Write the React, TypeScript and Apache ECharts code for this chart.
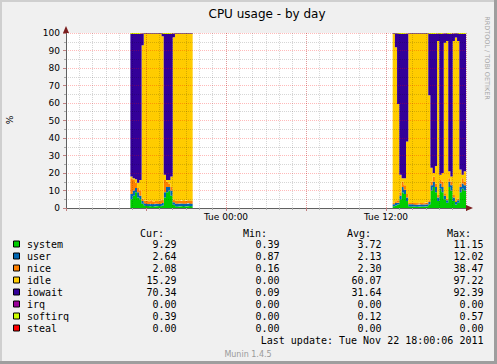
import React, { useEffect, useRef } from "react";
import * as echarts from "echarts";

// hours relative to Tue 00:00; the null column separates the two periods with data
const times = [
  -7.17, -7.0, -6.83, -6.67, -6.5, -6.33, -6.17, -6.0, -5.83, -5.67, -5.5, -5.33, -5.17, -5.0, -4.83,
  -4.67, -4.5, -4.33, -4.17, -4.0, -3.83, -3.67, -3.5, -3.33, -3.17, -3.0, -2.83, -2.67, -2.5,
  null,
  12.5, 12.67, 12.83, 13.0, 13.17, 13.33, 13.5, 13.67, 13.83, 14.0, 14.17, 14.33, 14.5, 14.67, 14.83,
  15.0, 15.17, 15.33, 15.5, 15.67, 15.83, 16.0, 16.17, 16.33, 16.5, 16.67, 16.83, 17.0, 17.17, 17.33,
  17.5, 17.67, 17.83, 18.0,
];

const system = [
  5, 7, 9, 6, 5, 2.5, 1.5, 1.2, 1.0, 1.1, 0.9, 1.0, 1.2, 1.0, 1.5, 6, 9, 10, 7, 1.8, 1.0, 0.9, 1.0, 1.1, 0.9, 1.0, 1.2, 1.0, 1.0,
  null,
  1.0, 1.5, 2, 5, 9, 8, 4, 1.0, 0.8, 0.9, 0.8, 0.7, 0.9, 0.8, 0.9, 1.0, 2.0, 10, 12, 9, 4, 11, 9, 5, 3, 12, 10, 4, 2, 3, 9, 11, 10, 9.29,
];
const user = [
  3, 3, 2.5, 3, 2, 1.5, 1.2, 1.3, 1.2, 1.3, 1.2, 1.4, 1.2, 1.3, 1.4, 3, 3, 2, 3, 1.5, 1.6, 1.5, 1.6, 1.5, 1.6, 1.5, 1.6, 1.5, 1.5,
  null,
  1.2, 1.3, 1, 2, 3, 2.5, 2, 1.2, 1.3, 1.2, 1.1, 1.2, 1.3, 1.2, 1.1, 1.2, 1.5, 3, 3, 3, 2, 3, 3, 2, 1.5, 3, 3, 2, 1.5, 1.5, 3, 3, 3, 2.64,
];
const nice = [
  9, 6, 3, 2.5, 3, 1.5, 1.5, 1.8, 1.6, 2.0, 1.5, 1.7, 1.4, 2.2, 1.8, 7, 3, 2, 2, 1.6, 1.5, 1.7, 1.4, 1.8, 1.5, 1.9, 1.5, 1.7, 1.7,
  null,
  0.8, 1.0, 1.5, 2, 3, 2.5, 2, 0.9, 0.8, 0.7, 0.9, 0.8, 0.8, 0.7, 0.8, 0.9, 1.0, 2, 3, 2, 1.5, 2, 3, 1.5, 1, 2, 2, 1.5, 1, 1, 2, 3, 2, 2.08,
];
const idle = [
  1, 1, 2, 3, 6, 87.5, 95.2, 95.1, 95.6, 95.0, 95.8, 95.3, 95.6, 94.9, 93.5, 3, 1, 2, 6, 92.7, 95.3, 95.3, 95.4, 95.0, 95.4, 95.0, 95.1, 95.2, 95.2,
  null,
  96.4, 88.0, 55, 10, 2, 4, 30, 96.3, 96.5, 96.6, 96.6, 96.7, 96.4, 96.7, 96.6, 96.3, 60.0, 8, 2, 10, 88, 3, 5, 86, 90, 4, 3, 88, 93, 90, 8, 2, 6, 15.29,
];
const iowait = [
  81.5, 82.5, 83, 85, 83.5, 6.8, 0.4, 0.4, 0.4, 0.4, 0.4, 0.4, 0.4, 0.4, 1.6, 80.5, 83.5, 83.5, 81.5, 2.2, 0.4, 0.4, 0.4, 0.4, 0.4, 0.4, 0.4, 0.4, 0.4,
  null,
  0.4, 8.0, 40.3, 80.5, 82.5, 82.5, 61.7, 0.4, 0.4, 0.4, 0.4, 0.4, 0.4, 0.4, 0.4, 0.4, 35.2, 76.5, 79.5, 75.5, 4.3, 80.5, 79.5, 5.3, 4.3, 78.5, 81.5, 4.3, 2.3, 4.3, 77.5, 80.5, 78.5, 70.34,
];
const irq = [
  0, 0, 0, 0, 0, 0, 0, 0, 0, 0, 0, 0, 0, 0, 0, 0, 0, 0, 0, 0, 0, 0, 0, 0, 0, 0, 0, 0, 0,
  null,
  0, 0, 0, 0, 0, 0, 0, 0, 0, 0, 0, 0, 0, 0, 0, 0, 0, 0, 0, 0, 0, 0, 0, 0, 0, 0, 0, 0, 0, 0, 0, 0, 0, 0,
];
const softirq = [
  0.5, 0.5, 0.5, 0.5, 0.5, 0.2, 0.2, 0.2, 0.2, 0.2, 0.2, 0.2, 0.2, 0.2, 0.2, 0.5, 0.5, 0.5, 0.5, 0.2, 0.2, 0.2, 0.2, 0.2, 0.2, 0.2, 0.2, 0.2, 0.2,
  null,
  0.2, 0.2, 0.2, 0.5, 0.5, 0.5, 0.3, 0.2, 0.2, 0.2, 0.2, 0.2, 0.2, 0.2, 0.2, 0.2, 0.3, 0.5, 0.5, 0.5, 0.2, 0.5, 0.5, 0.2, 0.2, 0.5, 0.5, 0.2, 0.2, 0.2, 0.5, 0.5, 0.5, 0.39,
];
const steal = [
  0, 0, 0, 0, 0, 0, 0, 0, 0, 0, 0, 0, 0, 0, 0, 0, 0, 0, 0, 0, 0, 0, 0, 0, 0, 0, 0, 0, 0,
  null,
  0, 0, 0, 0, 0, 0, 0, 0, 0, 0, 0, 0, 0, 0, 0, 0, 0, 0, 0, 0, 0, 0, 0, 0, 0, 0, 0, 0, 0, 0, 0, 0, 0, 0,
];

const names = ["system", "user", "nice", "idle", "iowait", "irq", "softirq", "steal"];
const colors = ["#00CC00", "#0066B3", "#FF8000", "#FFCC00", "#330099", "#990099", "#CCFF00", "#FF0000"];
const seriesValues = [system, user, nice, idle, iowait, irq, softirq, steal];
const curVals = [9.29, 2.64, 2.08, 15.29, 70.34, 0.0, 0.39, 0.0];
const minVals = [0.39, 0.87, 0.16, 0.0, 0.09, 0.0, 0.0, 0.0];
const avgVals = [3.72, 2.13, 2.3, 60.07, 31.64, 0.0, 0.12, 0.0];
const maxVals = [11.15, 12.02, 38.47, 97.22, 92.39, 0.0, 0.57, 0.0];
const xLabelValues = [0, 12];
const xLabelTexts = ["Tue 00:00", "Tue 12:00"];

const title = "CPU usage - by day";
const yName = "%";
const lastUpdate = "Last update: Tue Nov 22 18:00:06 2011";
const version = "Munin 1.4.5";
const credit = "RRDTOOL / TOBI OETIKER";

const MONO = '"DejaVu Sans Mono", monospace';
const SANS = '"DejaVu Sans", sans-serif';

// contiguous runs of indices with data
function runs(): number[][] {
  const out: number[][] = [];
  let cur: number[] = [];
  times.forEach((t, k) => {
    if (t === null) {
      if (cur.length) out.push(cur);
      cur = [];
    } else cur.push(k);
  });
  if (cur.length) out.push(cur);
  return out;
}

function buildOption() {
  const series: any[] = [];
  runs().forEach((idxs, r) => {
    names.forEach((n, i) => {
      series.push({
        name: n,
        type: "line",
        stack: "cpu" + r,
        step: "end",
        showSymbol: false,
        symbol: "none",
        dimensions: ["v", "t"],
        encode: { x: "t", y: "v" },
        lineStyle: { width: 0 },
        areaStyle: { color: colors[i], opacity: 1 },
        itemStyle: { color: colors[i] },
        data: idxs.map((k) => [seriesValues[i][k], times[k]]),
        z: 2,
      });
    });
  });

  const graphic: any[] = [];
  graphic.push({ type: "rect", shape: { x: 0, y: 0, width: 497, height: 2 }, style: { fill: "#cfcfcf" }, silent: true });
  graphic.push({ type: "rect", shape: { x: 0, y: 0, width: 2, height: 364 }, style: { fill: "#cfcfcf" }, silent: true });
  graphic.push({ type: "rect", shape: { x: 494, y: 0, width: 3, height: 364 }, style: { fill: "#9e9e9e" }, silent: true });
  graphic.push({ type: "rect", shape: { x: 0, y: 361, width: 497, height: 3 }, style: { fill: "#9e9e9e" }, silent: true });
  graphic.push({ type: "polygon", z: 10, shape: { points: [[63, 33], [69, 33], [66, 26]] }, style: { fill: "#7a1e1e" } });
  graphic.push({ type: "polygon", z: 10, shape: { points: [[466, 205], [466, 211], [473, 208]] }, style: { fill: "#7a1e1e" } });
  graphic.push({ type: "text", x: 267, y: 14, style: { text: title, font: `12px ${SANS}`, fill: "#000", textAlign: "center", textVerticalAlign: "middle" } });
  graphic.push({ type: "text", x: 10, y: 120, rotation: Math.PI / 2, style: { text: yName, font: `9px ${SANS}`, fill: "#000", textAlign: "center", textVerticalAlign: "middle" } });
  graphic.push({ type: "text", x: 487, y: 58, rotation: -Math.PI / 2, style: { text: credit, font: `6.5px ${SANS}`, fill: "#a8a8a8", textAlign: "center", textVerticalAlign: "middle" } });

  const headY = 233;
  [["Cur:", 140], ["Min:", 243], ["Avg:", 347], ["Max:", 447]].forEach(([t, x]) => {
    graphic.push({ type: "text", x: x as number, y: headY, style: { text: t as string, font: `10px ${MONO}`, fill: "#000", textAlign: "left", textVerticalAlign: "middle" } });
  });
  const rowY0 = 244.5;
  const rowH = 12;
  names.forEach((n, i) => {
    const y = rowY0 + i * rowH;
    graphic.push({ type: "rect", shape: { x: 13.5, y: y - 3.5, width: 6, height: 6 }, style: { fill: colors[i], stroke: "#000", lineWidth: 1 } });
    graphic.push({ type: "text", x: 27, y, style: { text: n, font: `10px ${MONO}`, fill: "#000", textAlign: "left", textVerticalAlign: "middle" } });
    const cols: [number[], number][] = [[curVals, 176.5], [minVals, 279.5], [avgVals, 381.5], [maxVals, 483.5]];
    cols.forEach(([arr, x]) => {
      graphic.push({ type: "text", x, y, style: { text: arr[i].toFixed(2), font: `10px ${MONO}`, fill: "#000", textAlign: "right", textVerticalAlign: "middle" } });
    });
  });
  graphic.push({ type: "text", x: 483.5, y: 340.5, style: { text: lastUpdate, font: `10px ${MONO}`, fill: "#000", textAlign: "right", textVerticalAlign: "middle" } });
  graphic.push({ type: "text", x: 248, y: 354, style: { text: version, font: `8px ${SANS}`, fill: "#9a9a9a", textAlign: "center", textVerticalAlign: "middle" } });

  const minorGrid = { color: "rgba(0,0,0,0.16)", type: [1, 1], width: 1 };
  const majorGrid = { color: "rgba(255,0,0,0.27)", type: [1, 1], width: 1 };

  return {
    animation: false,
    backgroundColor: "#f0f0f0",
    grid: { left: 66, right: 31, top: 33, bottom: 156, show: true, backgroundColor: "#ffffff", borderWidth: 0 },
    xAxis: [
      {
        type: "value", min: -12, max: 18, interval: 1, position: "bottom", z: 3,
        axisLine: { show: false, onZero: false },
        axisTick: { show: true, length: 2, lineStyle: { color: "#aaaaaa" } },
        axisLabel: { show: false },
        splitLine: { show: true, lineStyle: minorGrid },
      },
      {
        type: "value", min: -12, max: 18, interval: 6, position: "bottom", z: 3,
        axisLine: { show: true, onZero: false, lineStyle: { color: "#606060", width: 1 } },
        axisTick: { show: true, length: 3, lineStyle: { color: "#c08080" } },
        axisLabel: {
          show: true, margin: 4, fontSize: 9, fontFamily: SANS, color: "#000",
          formatter: (v: number) => {
            const k = xLabelValues.indexOf(v);
            return k >= 0 ? xLabelTexts[k] : "";
          },
        },
        splitLine: { show: true, lineStyle: majorGrid },
      },
    ],
    yAxis: {
      type: "value", min: 0, max: 100, interval: 10, z: 3, position: "left",
      axisLine: { show: true, onZero: false, lineStyle: { color: "#606060", width: 1 } },
      axisTick: { show: true, length: 3, lineStyle: { color: "#c08080" } },
      minorTick: { show: true, splitNumber: 2, length: 2, lineStyle: { color: "#aaaaaa" } },
      axisLabel: { margin: 6, fontSize: 9, fontFamily: SANS, color: "#000" },
      splitLine: { show: true, lineStyle: majorGrid },
      minorSplitLine: { show: true, lineStyle: minorGrid },
    },
    series,
    graphic,
  };
}

export default function App() {
  const ref = useRef<HTMLDivElement>(null);
  useEffect(() => {
    if (!ref.current) return;
    const chart = echarts.init(ref.current, null, { renderer: "svg" });
    chart.setOption(buildOption() as any);
    return () => chart.dispose();
  }, []);
  return (
    <div
      ref={ref}
      style={{ position: "absolute", left: 0, top: 0, width: 497, height: 364, background: "#f0f0f0" }}
    />
  );
}
